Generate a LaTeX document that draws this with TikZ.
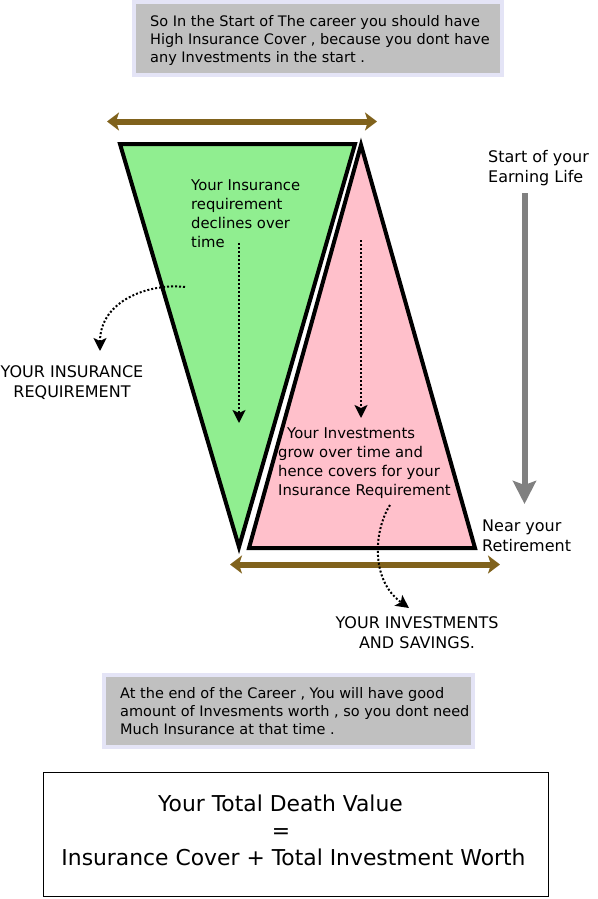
\documentclass[tikz,border=0pt]{standalone}
\usepackage{fontspec}
\setmainfont{DejaVu Sans}
\usetikzlibrary{arrows.meta}
\definecolor{brownarr}{RGB}{128,98,28}
\definecolor{boxgray}{RGB}{192,192,192}
\definecolor{boxedge}{RGB}{228,228,246}
\definecolor{greenfill}{RGB}{144,238,144}
\definecolor{pinkfill}{RGB}{255,192,203}
\definecolor{arrgray}{RGB}{128,128,128}
\begin{document}
\begin{tikzpicture}[x=1pt,y=-1pt,
  notebox/.style={fill=boxgray, draw=boxedge, line width=4pt},
  notetext/.style={font=\fontsize{14.5}{18}\selectfont, align=left, anchor=north west, inner sep=0pt},
  tritext/.style={font=\fontsize{14.8}{18.7}\selectfont, align=left, anchor=north west, inner sep=0pt},
  lbltext/.style={font=\fontsize{16}{20}\selectfont, inner sep=0pt},
  bigtext/.style={font=\fontsize{21.85}{27}\selectfont, inner sep=0pt, anchor=base},
  spanarrow/.style={draw=brownarr, line width=6pt,
     {Stealth[length=12pt,width=18pt,inset=3pt]}-{Stealth[length=12pt,width=18pt,inset=3pt]}},
  timearrow/.style={draw=arrgray, line width=6pt, -{Stealth[length=23pt,width=23pt,inset=4pt]}},
  dotarrow/.style={line width=2pt, dash pattern=on 2pt off 2pt, -{Stealth[length=13pt,width=13pt,inset=3pt]}},
  tri/.style={line width=4pt, draw=black, line join=miter},
]
\useasboundingbox (0,0) rectangle (597,899);

% top note
\draw[notebox] (134,2) rectangle (501.5,74.7);
\node[notetext] (topnote) at (150,15) {So In the Start of The career you should have\\High Insurance Cover , because you dont have\\any Investments in the start .};

% top span arrow
\coordinate (ta1) at (107,121.5);
\coordinate (ta2) at (377,121.5);
\draw[spanarrow] (ta1) -- (ta2);

% triangles
\coordinate (g1) at (120,144);
\coordinate (g2) at (355,144);
\coordinate (g3) at (239,547);
\draw[tri, fill=greenfill] (g1) -- (g2) -- (g3) -- cycle;
\coordinate (p1) at (361,145);
\coordinate (p2) at (475,548);
\coordinate (p3) at (249,548);
\draw[tri, fill=pinkfill] (p1) -- (p2) -- (p3) -- cycle;

% triangle texts
\node[tritext] (gtext) at (191,180) {Your Insurance\\requirement\\declines over\\time};
\node[tritext] (ptext) at (278,428) {\hspace*{9pt}Your Investments\\grow over time and\\hence covers for your\\Insurance Requirement};

% dotted vertical arrows
\coordinate (ga1) at (239,243);
\coordinate (ga2) at (239,423);
\draw[dotarrow] (ga1) -- (ga2);
\coordinate (pa1) at (361,240);
\coordinate (pa2) at (361,418);
\draw[dotarrow] (pa1) -- (pa2);

% insurance requirement label
\node[lbltext, align=center, anchor=north] (inslbl) at (72,365) {YOUR INSURANCE\\REQUIREMENT};
\coordinate (ic1) at (185,287);
\coordinate (ic2) at (100,351);
\draw[dotarrow] (ic1) .. controls (150,283) and (100,300) .. (ic2);

% time arrow
\node[lbltext, align=left, anchor=north west] (startlbl) at (488,150) {Start of your\\Earning Life};
\node[lbltext, align=left, anchor=north west] (endlbl) at (482,520) {Near your\\Retirement};
\coordinate (tm1) at (524.5,193);
\coordinate (tm2) at (524.5,504);
\draw[timearrow] (tm1) -- (tm2);

% bottom span arrow
\coordinate (ba1) at (230,564.5);
\coordinate (ba2) at (500,564.5);
\draw[spanarrow] (ba1) -- (ba2);

% investments label
\node[lbltext, align=center, anchor=north] (invlbl) at (417,616) {YOUR INVESTMENTS\\AND SAVINGS.};
\coordinate (vc1) at (390,505);
\coordinate (vc2) at (409,608);
\draw[dotarrow] (vc1) .. controls (374,530) and (370,580) .. (vc2);

% bottom note
\draw[notebox] (103.7,674.5) rectangle (472.8,747.2);
\node[notetext] (botnote) at (120,687) {At the end of the Career , You will have good\\amount of Invesments worth , so you dont need\\Much Insurance at that time .};

% final box
\draw[black, line width=1pt] (43,772) rectangle (548,896);
\node[bigtext] (f1) at (280.5,811) {Your Total Death Value};
\node[bigtext] (f2) at (281,838) {=};
\node[bigtext] (f3) at (293.5,865) {Insurance Cover + Total Investment Worth};
\end{tikzpicture}
\end{document}
